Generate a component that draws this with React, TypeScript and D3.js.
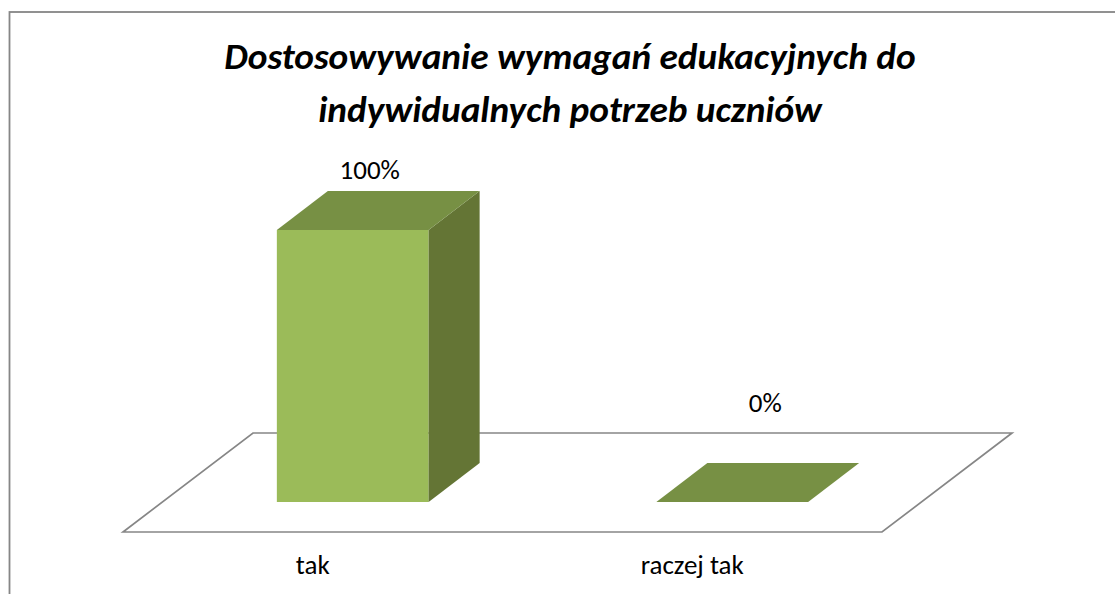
import { useEffect, useRef } from 'react';
import * as d3 from 'd3';

const titleLines = ['Dostosowywanie wymagań edukacyjnych do', 'indywidualnych potrzeb uczniów'];
const categories = ['tak', 'raczej tak'];
const values = [1, 0];

const FONT = 'Carlito, Calibri, Lato, "Open Sans", sans-serif';

export default function App() {
  const svgRef = useRef<SVGSVGElement>(null);

  useEffect(() => {
    const svg = d3.select(svgRef.current);
    svg.selectAll('*').remove();

    const width = 1115;
    const height = 594;

    // chart frame runs off the right and bottom of the picture
    svg.append('rect')
      .attr('x', 9.5)
      .attr('y', 12)
      .attr('width', width + 20)
      .attr('height', height + 20)
      .attr('fill', '#fff')
      .attr('stroke', '#868686')
      .attr('stroke-width', 1.8);

    titleLines.forEach((line, i) => {
      svg.append('text')
        .attr('x', 570)
        .attr('y', 69 + i * 53)
        .attr('text-anchor', 'middle')
        .style('font-family', FONT)
        .style('font-size', '37.3px')
        .style('font-weight', 'bold')
        .style('font-style', 'italic')
        .attr('fill', '#000')
        .text(line);
    });

    // floor of the 3D plot
    const floorLeft = 123;
    const floorRight = 882;
    const floorFront = 532;
    const floorDepth: [number, number] = [130, -99];

    const x = d3.scaleBand<string>()
      .domain(categories)
      .range([floorLeft, floorRight]);

    const floor = d3.path();
    floor.moveTo(floorLeft, floorFront);
    floor.lineTo(floorLeft + floorDepth[0], floorFront + floorDepth[1]);
    floor.lineTo(floorRight + floorDepth[0], floorFront + floorDepth[1]);
    floor.lineTo(floorRight, floorFront);
    floor.closePath();

    svg.append('path')
      .attr('d', floor.toString())
      .attr('fill', 'none')
      .attr('stroke', '#868686')
      .attr('stroke-width', 1.7);

    // bars stand part way back on the floor
    const y = d3.scaleLinear().domain([0, 1]).range([502, 230]);
    const barWidth = x.bandwidth() * 0.4;
    const barShift = 40;
    const depthX = 51;
    const depthY = -39;
    const poly = d3.line();

    // data labels sit differently above a tall bar and a flat one
    const labelOffsetX = [17, 33];
    const labelOffsetY = [-51, -90];

    categories.forEach((cat, i) => {
      const x0 = (x(cat) as number) + (x.bandwidth() - barWidth) / 2 + barShift;
      const x1 = x0 + barWidth;
      const yBase = y(0);
      const yTop = y(values[i]);

      if (values[i] > 0) {
        svg.append('path')
          .attr('d', poly([[x0, yBase], [x1, yBase], [x1, yTop], [x0, yTop]]) + 'Z')
          .attr('fill', '#9bbb59');

        svg.append('path')
          .attr('d', poly([[x1, yBase], [x1 + depthX, yBase + depthY], [x1 + depthX, yTop + depthY], [x1, yTop]]) + 'Z')
          .attr('fill', '#647535');
      }

      svg.append('path')
        .attr('d', poly([[x0, yTop], [x1, yTop], [x1 + depthX, yTop + depthY], [x0 + depthX, yTop + depthY]]) + 'Z')
        .attr('fill', '#779044');

      svg.append('text')
        .attr('x', x0 + barWidth / 2 + labelOffsetX[i])
        .attr('y', yTop + labelOffsetY[i])
        .attr('text-anchor', 'middle')
        .style('font-family', FONT)
        .style('font-size', '27px')
        .attr('fill', '#000')
        .text(d3.format('.0%')(values[i]));

      svg.append('text')
        .attr('x', (x(cat) as number) + x.bandwidth() / 2)
        .attr('y', 574)
        .attr('text-anchor', 'middle')
        .style('font-family', FONT)
        .style('font-size', '27px')
        .attr('fill', '#000')
        .text(cat);
    });
  }, []);

  return (
    <svg
      ref={svgRef}
      width={1115}
      height={594}
      style={{ position: 'absolute', left: 0, top: 0, background: '#fff' }}
    />
  );
}
